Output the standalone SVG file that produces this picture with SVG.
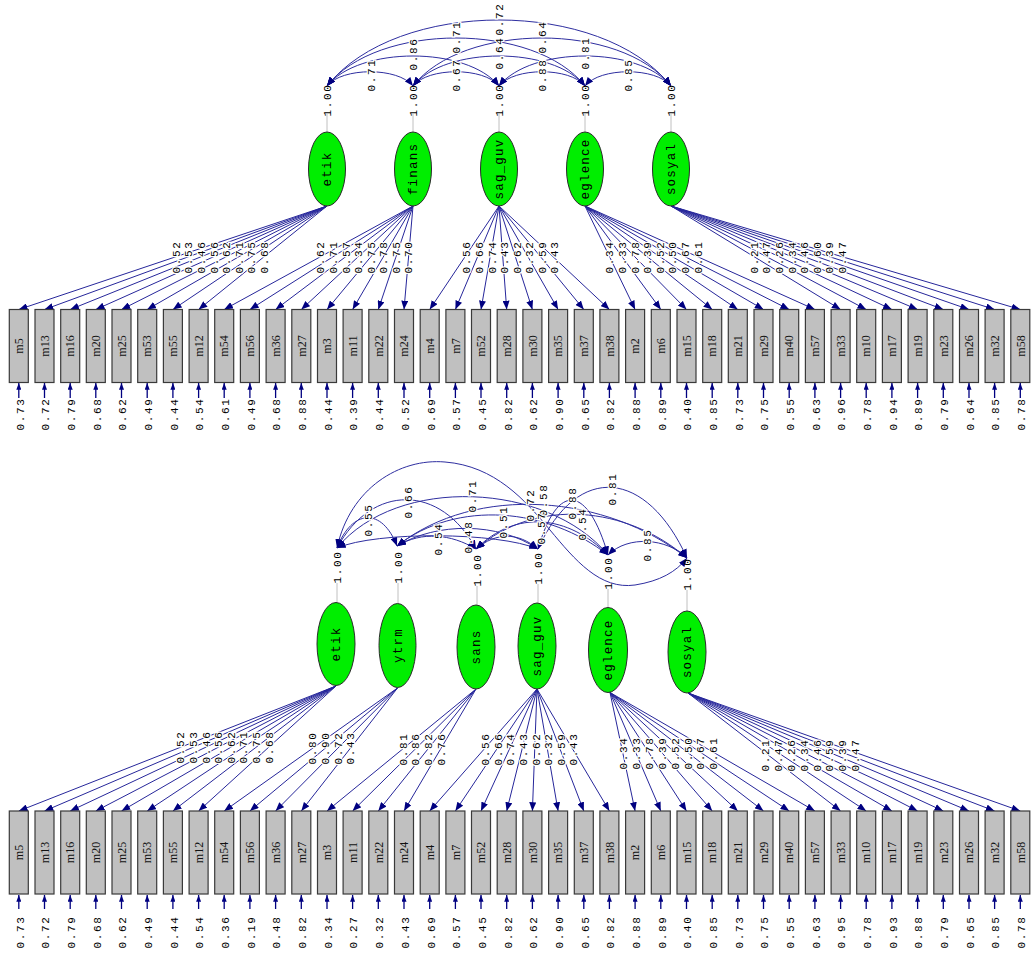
<svg xmlns="http://www.w3.org/2000/svg" width="1035" height="954" viewBox="0 0 1035 954">
<defs>
<marker id="ah" viewBox="0 0 10 8" refX="10" refY="4" markerWidth="9" markerHeight="7" markerUnits="userSpaceOnUse" orient="auto-start-reverse"><path d="M0,0 L10,4 L0,8 z" fill="#000080"/></marker>
<marker id="ae" viewBox="0 0 8 6" refX="8" refY="3" markerWidth="7" markerHeight="5" markerUnits="userSpaceOnUse" orient="auto"><path d="M0,0 L8,3 L0,6 z" fill="#000080"/></marker>
<style>
.ln{stroke:#26269a;stroke-width:1;fill:none;marker-end:url(#ah)}
.cv{stroke:#2e2ea0;stroke-width:1;fill:none;marker-start:url(#ah);marker-end:url(#ah)}
.er{stroke:#000080;stroke-width:1.3;marker-end:url(#ae)}
.gl{stroke:#c0c0c0;stroke-width:1}
.bx{fill:#c0c0c0;stroke:#3a3a3a;stroke-width:1.2}
.el{fill:#00ee00;stroke:#2a2a2a;stroke-width:1}
.n{font-family:"Liberation Mono",monospace;font-size:11px;letter-spacing:1.7px;fill:#000;text-anchor:middle}
.lb{font-family:"Liberation Mono",monospace;font-size:11px;letter-spacing:1.7px;fill:#000;text-anchor:middle;paint-order:stroke;stroke:#fff;stroke-width:2.5px}
.f{font-family:"Liberation Mono",monospace;font-size:12.5px;letter-spacing:1.2px;fill:#000;text-anchor:middle}
.m{font-family:"Liberation Serif",serif;font-size:12px;fill:#111;text-anchor:middle}
</style>
</defs>
<rect width="1035" height="954" fill="#fff"/>

<!-- ================= TOP MODEL ================= -->
<g id="top-connectors">
<line class="gl" x1="327" y1="114" x2="327" y2="132"/>
<line class="gl" x1="413" y1="114" x2="413" y2="132"/>
<line class="gl" x1="499" y1="114" x2="499" y2="132"/>
<line class="gl" x1="585" y1="114" x2="585" y2="132"/>
<line class="gl" x1="671" y1="114" x2="671" y2="132"/>
<path class="cv" d="M327,86 C342,67 398,67 413,86"/>
<path class="cv" d="M413,86 C428,67 484,67 499,86"/>
<path class="cv" d="M499,86 C514,67 570,67 585,86"/>
<path class="cv" d="M585,86 C600,67 656,67 671,86"/>
<path class="cv" d="M327,86 C359,46 467,46 499,86"/>
<path class="cv" d="M413,86 C445,46 553,46 585,86"/>
<path class="cv" d="M499,86 C531,46 639,46 671,86"/>
<path class="cv" d="M327,86 C377,22 535,22 585,86"/>
<path class="cv" d="M413,86 C463,22 621,22 671,86"/>
<path class="cv" d="M327,86 C397,-2 601,-2 671,86"/>
<line class="ln" x1="327" y1="206" x2="18.8" y2="309.5"/>
<line class="ln" x1="327" y1="206" x2="44.5" y2="309.5"/>
<line class="ln" x1="327" y1="206" x2="70.2" y2="309.5"/>
<line class="ln" x1="327" y1="206" x2="95.8" y2="309.5"/>
<line class="ln" x1="327" y1="206" x2="121.5" y2="309.5"/>
<line class="ln" x1="327" y1="206" x2="147.2" y2="309.5"/>
<line class="ln" x1="327" y1="206" x2="172.9" y2="309.5"/>
<line class="ln" x1="327" y1="206" x2="198.6" y2="309.5"/>
<line class="ln" x1="413" y1="206" x2="224.2" y2="309.5"/>
<line class="ln" x1="413" y1="206" x2="249.9" y2="309.5"/>
<line class="ln" x1="413" y1="206" x2="275.6" y2="309.5"/>
<line class="ln" x1="413" y1="206" x2="301.3" y2="309.5"/>
<line class="ln" x1="413" y1="206" x2="327.0" y2="309.5"/>
<line class="ln" x1="413" y1="206" x2="352.6" y2="309.5"/>
<line class="ln" x1="413" y1="206" x2="378.3" y2="309.5"/>
<line class="ln" x1="413" y1="206" x2="404.0" y2="309.5"/>
<line class="ln" x1="499" y1="206" x2="429.7" y2="309.5"/>
<line class="ln" x1="499" y1="206" x2="455.4" y2="309.5"/>
<line class="ln" x1="499" y1="206" x2="481.0" y2="309.5"/>
<line class="ln" x1="499" y1="206" x2="506.7" y2="309.5"/>
<line class="ln" x1="499" y1="206" x2="532.4" y2="309.5"/>
<line class="ln" x1="499" y1="206" x2="558.1" y2="309.5"/>
<line class="ln" x1="499" y1="206" x2="583.8" y2="309.5"/>
<line class="ln" x1="499" y1="206" x2="609.4" y2="309.5"/>
<line class="ln" x1="585" y1="206" x2="635.1" y2="309.5"/>
<line class="ln" x1="585" y1="206" x2="660.8" y2="309.5"/>
<line class="ln" x1="585" y1="206" x2="686.5" y2="309.5"/>
<line class="ln" x1="585" y1="206" x2="712.2" y2="309.5"/>
<line class="ln" x1="585" y1="206" x2="737.8" y2="309.5"/>
<line class="ln" x1="585" y1="206" x2="763.5" y2="309.5"/>
<line class="ln" x1="585" y1="206" x2="789.2" y2="309.5"/>
<line class="ln" x1="585" y1="206" x2="814.9" y2="309.5"/>
<line class="ln" x1="671" y1="206" x2="840.6" y2="309.5"/>
<line class="ln" x1="671" y1="206" x2="866.2" y2="309.5"/>
<line class="ln" x1="671" y1="206" x2="891.9" y2="309.5"/>
<line class="ln" x1="671" y1="206" x2="917.6" y2="309.5"/>
<line class="ln" x1="671" y1="206" x2="943.3" y2="309.5"/>
<line class="ln" x1="671" y1="206" x2="969.0" y2="309.5"/>
<line class="ln" x1="671" y1="206" x2="994.6" y2="309.5"/>
<line class="ln" x1="671" y1="206" x2="1020.3" y2="309.5"/>
<line class="er" x1="18.8" y1="398" x2="18.8" y2="383"/>
<line class="er" x1="44.5" y1="398" x2="44.5" y2="383"/>
<line class="er" x1="70.2" y1="398" x2="70.2" y2="383"/>
<line class="er" x1="95.8" y1="398" x2="95.8" y2="383"/>
<line class="er" x1="121.5" y1="398" x2="121.5" y2="383"/>
<line class="er" x1="147.2" y1="398" x2="147.2" y2="383"/>
<line class="er" x1="172.9" y1="398" x2="172.9" y2="383"/>
<line class="er" x1="198.6" y1="398" x2="198.6" y2="383"/>
<line class="er" x1="224.2" y1="398" x2="224.2" y2="383"/>
<line class="er" x1="249.9" y1="398" x2="249.9" y2="383"/>
<line class="er" x1="275.6" y1="398" x2="275.6" y2="383"/>
<line class="er" x1="301.3" y1="398" x2="301.3" y2="383"/>
<line class="er" x1="327.0" y1="398" x2="327.0" y2="383"/>
<line class="er" x1="352.6" y1="398" x2="352.6" y2="383"/>
<line class="er" x1="378.3" y1="398" x2="378.3" y2="383"/>
<line class="er" x1="404.0" y1="398" x2="404.0" y2="383"/>
<line class="er" x1="429.7" y1="398" x2="429.7" y2="383"/>
<line class="er" x1="455.4" y1="398" x2="455.4" y2="383"/>
<line class="er" x1="481.0" y1="398" x2="481.0" y2="383"/>
<line class="er" x1="506.7" y1="398" x2="506.7" y2="383"/>
<line class="er" x1="532.4" y1="398" x2="532.4" y2="383"/>
<line class="er" x1="558.1" y1="398" x2="558.1" y2="383"/>
<line class="er" x1="583.8" y1="398" x2="583.8" y2="383"/>
<line class="er" x1="609.4" y1="398" x2="609.4" y2="383"/>
<line class="er" x1="635.1" y1="398" x2="635.1" y2="383"/>
<line class="er" x1="660.8" y1="398" x2="660.8" y2="383"/>
<line class="er" x1="686.5" y1="398" x2="686.5" y2="383"/>
<line class="er" x1="712.2" y1="398" x2="712.2" y2="383"/>
<line class="er" x1="737.8" y1="398" x2="737.8" y2="383"/>
<line class="er" x1="763.5" y1="398" x2="763.5" y2="383"/>
<line class="er" x1="789.2" y1="398" x2="789.2" y2="383"/>
<line class="er" x1="814.9" y1="398" x2="814.9" y2="383"/>
<line class="er" x1="840.6" y1="398" x2="840.6" y2="383"/>
<line class="er" x1="866.2" y1="398" x2="866.2" y2="383"/>
<line class="er" x1="891.9" y1="398" x2="891.9" y2="383"/>
<line class="er" x1="917.6" y1="398" x2="917.6" y2="383"/>
<line class="er" x1="943.3" y1="398" x2="943.3" y2="383"/>
<line class="er" x1="969.0" y1="398" x2="969.0" y2="383"/>
<line class="er" x1="994.6" y1="398" x2="994.6" y2="383"/>
<line class="er" x1="1020.3" y1="398" x2="1020.3" y2="383"/>
</g>

<g id="top-labels">
<text class="n" transform="translate(327,100) rotate(-90)" dy="0.35em">1.00</text>
<text class="n" transform="translate(413,100) rotate(-90)" dy="0.35em">1.00</text>
<text class="n" transform="translate(499,100) rotate(-90)" dy="0.35em">1.00</text>
<text class="n" transform="translate(585,100) rotate(-90)" dy="0.35em">1.00</text>
<text class="n" transform="translate(671,100) rotate(-90)" dy="0.35em">1.00</text>
<text class="lb" transform="translate(371,75) rotate(-90)" dy="0.35em">0.71</text>
<text class="lb" transform="translate(456,75) rotate(-90)" dy="0.35em">0.67</text>
<text class="lb" transform="translate(542,75) rotate(-90)" dy="0.35em">0.88</text>
<text class="lb" transform="translate(628,75) rotate(-90)" dy="0.35em">0.85</text>
<text class="lb" transform="translate(413,54) rotate(-90)" dy="0.35em">0.86</text>
<text class="lb" transform="translate(499,53) rotate(-90)" dy="0.35em">0.64</text>
<text class="lb" transform="translate(585,53) rotate(-90)" dy="0.35em">0.81</text>
<text class="lb" transform="translate(456,37) rotate(-90)" dy="0.35em">0.71</text>
<text class="lb" transform="translate(542,37) rotate(-90)" dy="0.35em">0.64</text>
<text class="lb" transform="translate(499,19) rotate(-90)" dy="0.35em">0.72</text>
<text class="lb" transform="translate(176.0,257) rotate(-90)" dy="0.35em">0.52</text>
<text class="lb" transform="translate(188.6,257) rotate(-90)" dy="0.35em">0.53</text>
<text class="lb" transform="translate(201.2,257) rotate(-90)" dy="0.35em">0.46</text>
<text class="lb" transform="translate(213.7,257) rotate(-90)" dy="0.35em">0.56</text>
<text class="lb" transform="translate(226.3,257) rotate(-90)" dy="0.35em">0.62</text>
<text class="lb" transform="translate(238.9,257) rotate(-90)" dy="0.35em">0.71</text>
<text class="lb" transform="translate(251.5,257) rotate(-90)" dy="0.35em">0.75</text>
<text class="lb" transform="translate(264.1,257) rotate(-90)" dy="0.35em">0.68</text>
<text class="lb" transform="translate(320.5,257) rotate(-90)" dy="0.35em">0.62</text>
<text class="lb" transform="translate(333.1,257) rotate(-90)" dy="0.35em">0.71</text>
<text class="lb" transform="translate(345.7,257) rotate(-90)" dy="0.35em">0.57</text>
<text class="lb" transform="translate(358.3,257) rotate(-90)" dy="0.35em">0.34</text>
<text class="lb" transform="translate(370.9,257) rotate(-90)" dy="0.35em">0.75</text>
<text class="lb" transform="translate(383.4,257) rotate(-90)" dy="0.35em">0.78</text>
<text class="lb" transform="translate(396.0,257) rotate(-90)" dy="0.35em">0.75</text>
<text class="lb" transform="translate(408.6,257) rotate(-90)" dy="0.35em">0.70</text>
<text class="lb" transform="translate(466.5,257) rotate(-90)" dy="0.35em">0.56</text>
<text class="lb" transform="translate(479.1,257) rotate(-90)" dy="0.35em">0.66</text>
<text class="lb" transform="translate(491.7,257) rotate(-90)" dy="0.35em">0.74</text>
<text class="lb" transform="translate(504.3,257) rotate(-90)" dy="0.35em">0.43</text>
<text class="lb" transform="translate(516.9,257) rotate(-90)" dy="0.35em">0.62</text>
<text class="lb" transform="translate(529.5,257) rotate(-90)" dy="0.35em">0.32</text>
<text class="lb" transform="translate(542.1,257) rotate(-90)" dy="0.35em">0.59</text>
<text class="lb" transform="translate(554.6,257) rotate(-90)" dy="0.35em">0.43</text>
<text class="lb" transform="translate(609.5,257) rotate(-90)" dy="0.35em">0.34</text>
<text class="lb" transform="translate(622.1,257) rotate(-90)" dy="0.35em">0.33</text>
<text class="lb" transform="translate(634.7,257) rotate(-90)" dy="0.35em">0.78</text>
<text class="lb" transform="translate(647.3,257) rotate(-90)" dy="0.35em">0.39</text>
<text class="lb" transform="translate(659.9,257) rotate(-90)" dy="0.35em">0.52</text>
<text class="lb" transform="translate(672.5,257) rotate(-90)" dy="0.35em">0.50</text>
<text class="lb" transform="translate(685.1,257) rotate(-90)" dy="0.35em">0.67</text>
<text class="lb" transform="translate(697.7,257) rotate(-90)" dy="0.35em">0.61</text>
<text class="lb" transform="translate(754.1,257) rotate(-90)" dy="0.35em">0.21</text>
<text class="lb" transform="translate(766.6,257) rotate(-90)" dy="0.35em">0.47</text>
<text class="lb" transform="translate(779.2,257) rotate(-90)" dy="0.35em">0.26</text>
<text class="lb" transform="translate(791.8,257) rotate(-90)" dy="0.35em">0.34</text>
<text class="lb" transform="translate(804.4,257) rotate(-90)" dy="0.35em">0.46</text>
<text class="lb" transform="translate(817.0,257) rotate(-90)" dy="0.35em">0.60</text>
<text class="lb" transform="translate(829.6,257) rotate(-90)" dy="0.35em">0.39</text>
<text class="lb" transform="translate(842.2,257) rotate(-90)" dy="0.35em">0.47</text>
<text class="n" transform="translate(19.8,414) rotate(-90)" dy="0.35em">0.73</text>
<text class="n" transform="translate(45.5,414) rotate(-90)" dy="0.35em">0.72</text>
<text class="n" transform="translate(71.2,414) rotate(-90)" dy="0.35em">0.79</text>
<text class="n" transform="translate(96.8,414) rotate(-90)" dy="0.35em">0.68</text>
<text class="n" transform="translate(122.5,414) rotate(-90)" dy="0.35em">0.62</text>
<text class="n" transform="translate(148.2,414) rotate(-90)" dy="0.35em">0.49</text>
<text class="n" transform="translate(173.9,414) rotate(-90)" dy="0.35em">0.44</text>
<text class="n" transform="translate(199.6,414) rotate(-90)" dy="0.35em">0.54</text>
<text class="n" transform="translate(225.2,414) rotate(-90)" dy="0.35em">0.61</text>
<text class="n" transform="translate(250.9,414) rotate(-90)" dy="0.35em">0.49</text>
<text class="n" transform="translate(276.6,414) rotate(-90)" dy="0.35em">0.68</text>
<text class="n" transform="translate(302.3,414) rotate(-90)" dy="0.35em">0.88</text>
<text class="n" transform="translate(328.0,414) rotate(-90)" dy="0.35em">0.44</text>
<text class="n" transform="translate(353.6,414) rotate(-90)" dy="0.35em">0.39</text>
<text class="n" transform="translate(379.3,414) rotate(-90)" dy="0.35em">0.44</text>
<text class="n" transform="translate(405.0,414) rotate(-90)" dy="0.35em">0.52</text>
<text class="n" transform="translate(430.7,414) rotate(-90)" dy="0.35em">0.69</text>
<text class="n" transform="translate(456.4,414) rotate(-90)" dy="0.35em">0.57</text>
<text class="n" transform="translate(482.0,414) rotate(-90)" dy="0.35em">0.45</text>
<text class="n" transform="translate(507.7,414) rotate(-90)" dy="0.35em">0.82</text>
<text class="n" transform="translate(533.4,414) rotate(-90)" dy="0.35em">0.62</text>
<text class="n" transform="translate(559.1,414) rotate(-90)" dy="0.35em">0.90</text>
<text class="n" transform="translate(584.8,414) rotate(-90)" dy="0.35em">0.65</text>
<text class="n" transform="translate(610.4,414) rotate(-90)" dy="0.35em">0.82</text>
<text class="n" transform="translate(636.1,414) rotate(-90)" dy="0.35em">0.88</text>
<text class="n" transform="translate(661.8,414) rotate(-90)" dy="0.35em">0.89</text>
<text class="n" transform="translate(687.5,414) rotate(-90)" dy="0.35em">0.40</text>
<text class="n" transform="translate(713.2,414) rotate(-90)" dy="0.35em">0.85</text>
<text class="n" transform="translate(738.8,414) rotate(-90)" dy="0.35em">0.73</text>
<text class="n" transform="translate(764.5,414) rotate(-90)" dy="0.35em">0.75</text>
<text class="n" transform="translate(790.2,414) rotate(-90)" dy="0.35em">0.55</text>
<text class="n" transform="translate(815.9,414) rotate(-90)" dy="0.35em">0.63</text>
<text class="n" transform="translate(841.6,414) rotate(-90)" dy="0.35em">0.96</text>
<text class="n" transform="translate(867.2,414) rotate(-90)" dy="0.35em">0.78</text>
<text class="n" transform="translate(892.9,414) rotate(-90)" dy="0.35em">0.94</text>
<text class="n" transform="translate(918.6,414) rotate(-90)" dy="0.35em">0.89</text>
<text class="n" transform="translate(944.3,414) rotate(-90)" dy="0.35em">0.79</text>
<text class="n" transform="translate(970.0,414) rotate(-90)" dy="0.35em">0.64</text>
<text class="n" transform="translate(995.6,414) rotate(-90)" dy="0.35em">0.85</text>
<text class="n" transform="translate(1021.3,414) rotate(-90)" dy="0.35em">0.78</text>
</g>

<g id="top-factors">
<g id="t-etik"><ellipse class="el" cx="327" cy="169" rx="18.5" ry="37"/><text class="f" transform="translate(327,169) rotate(-90)" dy="0.35em">etik</text></g>
<g id="t-finans"><ellipse class="el" cx="413" cy="169" rx="18.5" ry="37"/><text class="f" transform="translate(413,169) rotate(-90)" dy="0.35em">finans</text></g>
<g id="t-sag_guv"><ellipse class="el" cx="499" cy="169" rx="18.5" ry="37"/><text class="f" transform="translate(499,169) rotate(-90)" dy="0.35em">sag_guv</text></g>
<g id="t-eglence"><ellipse class="el" cx="585" cy="169" rx="18.5" ry="37"/><text class="f" transform="translate(585,169) rotate(-90)" dy="0.35em">eglence</text></g>
<g id="t-sosyal"><ellipse class="el" cx="671" cy="169" rx="18.5" ry="37"/><text class="f" transform="translate(671,169) rotate(-90)" dy="0.35em">sosyal</text></g>
</g>

<g id="top-indicators">
<g id="t-m5"><rect class="bx" x="9.3" y="309.5" width="19" height="73"/><text class="m" transform="translate(18.8,346) rotate(-90)" dy="0.35em">m5</text></g>
<g id="t-m13"><rect class="bx" x="35.0" y="309.5" width="19" height="73"/><text class="m" transform="translate(44.5,346) rotate(-90)" dy="0.35em">m13</text></g>
<g id="t-m16"><rect class="bx" x="60.7" y="309.5" width="19" height="73"/><text class="m" transform="translate(70.2,346) rotate(-90)" dy="0.35em">m16</text></g>
<g id="t-m20"><rect class="bx" x="86.3" y="309.5" width="19" height="73"/><text class="m" transform="translate(95.8,346) rotate(-90)" dy="0.35em">m20</text></g>
<g id="t-m25"><rect class="bx" x="112.0" y="309.5" width="19" height="73"/><text class="m" transform="translate(121.5,346) rotate(-90)" dy="0.35em">m25</text></g>
<g id="t-m53"><rect class="bx" x="137.7" y="309.5" width="19" height="73"/><text class="m" transform="translate(147.2,346) rotate(-90)" dy="0.35em">m53</text></g>
<g id="t-m55"><rect class="bx" x="163.4" y="309.5" width="19" height="73"/><text class="m" transform="translate(172.9,346) rotate(-90)" dy="0.35em">m55</text></g>
<g id="t-m12"><rect class="bx" x="189.1" y="309.5" width="19" height="73"/><text class="m" transform="translate(198.6,346) rotate(-90)" dy="0.35em">m12</text></g>
<g id="t-m54"><rect class="bx" x="214.7" y="309.5" width="19" height="73"/><text class="m" transform="translate(224.2,346) rotate(-90)" dy="0.35em">m54</text></g>
<g id="t-m56"><rect class="bx" x="240.4" y="309.5" width="19" height="73"/><text class="m" transform="translate(249.9,346) rotate(-90)" dy="0.35em">m56</text></g>
<g id="t-m36"><rect class="bx" x="266.1" y="309.5" width="19" height="73"/><text class="m" transform="translate(275.6,346) rotate(-90)" dy="0.35em">m36</text></g>
<g id="t-m27"><rect class="bx" x="291.8" y="309.5" width="19" height="73"/><text class="m" transform="translate(301.3,346) rotate(-90)" dy="0.35em">m27</text></g>
<g id="t-m3"><rect class="bx" x="317.5" y="309.5" width="19" height="73"/><text class="m" transform="translate(327.0,346) rotate(-90)" dy="0.35em">m3</text></g>
<g id="t-m11"><rect class="bx" x="343.1" y="309.5" width="19" height="73"/><text class="m" transform="translate(352.6,346) rotate(-90)" dy="0.35em">m11</text></g>
<g id="t-m22"><rect class="bx" x="368.8" y="309.5" width="19" height="73"/><text class="m" transform="translate(378.3,346) rotate(-90)" dy="0.35em">m22</text></g>
<g id="t-m24"><rect class="bx" x="394.5" y="309.5" width="19" height="73"/><text class="m" transform="translate(404.0,346) rotate(-90)" dy="0.35em">m24</text></g>
<g id="t-m4"><rect class="bx" x="420.2" y="309.5" width="19" height="73"/><text class="m" transform="translate(429.7,346) rotate(-90)" dy="0.35em">m4</text></g>
<g id="t-m7"><rect class="bx" x="445.9" y="309.5" width="19" height="73"/><text class="m" transform="translate(455.4,346) rotate(-90)" dy="0.35em">m7</text></g>
<g id="t-m52"><rect class="bx" x="471.5" y="309.5" width="19" height="73"/><text class="m" transform="translate(481.0,346) rotate(-90)" dy="0.35em">m52</text></g>
<g id="t-m28"><rect class="bx" x="497.2" y="309.5" width="19" height="73"/><text class="m" transform="translate(506.7,346) rotate(-90)" dy="0.35em">m28</text></g>
<g id="t-m30"><rect class="bx" x="522.9" y="309.5" width="19" height="73"/><text class="m" transform="translate(532.4,346) rotate(-90)" dy="0.35em">m30</text></g>
<g id="t-m35"><rect class="bx" x="548.6" y="309.5" width="19" height="73"/><text class="m" transform="translate(558.1,346) rotate(-90)" dy="0.35em">m35</text></g>
<g id="t-m37"><rect class="bx" x="574.3" y="309.5" width="19" height="73"/><text class="m" transform="translate(583.8,346) rotate(-90)" dy="0.35em">m37</text></g>
<g id="t-m38"><rect class="bx" x="599.9" y="309.5" width="19" height="73"/><text class="m" transform="translate(609.4,346) rotate(-90)" dy="0.35em">m38</text></g>
<g id="t-m2"><rect class="bx" x="625.6" y="309.5" width="19" height="73"/><text class="m" transform="translate(635.1,346) rotate(-90)" dy="0.35em">m2</text></g>
<g id="t-m6"><rect class="bx" x="651.3" y="309.5" width="19" height="73"/><text class="m" transform="translate(660.8,346) rotate(-90)" dy="0.35em">m6</text></g>
<g id="t-m15"><rect class="bx" x="677.0" y="309.5" width="19" height="73"/><text class="m" transform="translate(686.5,346) rotate(-90)" dy="0.35em">m15</text></g>
<g id="t-m18"><rect class="bx" x="702.7" y="309.5" width="19" height="73"/><text class="m" transform="translate(712.2,346) rotate(-90)" dy="0.35em">m18</text></g>
<g id="t-m21"><rect class="bx" x="728.3" y="309.5" width="19" height="73"/><text class="m" transform="translate(737.8,346) rotate(-90)" dy="0.35em">m21</text></g>
<g id="t-m29"><rect class="bx" x="754.0" y="309.5" width="19" height="73"/><text class="m" transform="translate(763.5,346) rotate(-90)" dy="0.35em">m29</text></g>
<g id="t-m40"><rect class="bx" x="779.7" y="309.5" width="19" height="73"/><text class="m" transform="translate(789.2,346) rotate(-90)" dy="0.35em">m40</text></g>
<g id="t-m57"><rect class="bx" x="805.4" y="309.5" width="19" height="73"/><text class="m" transform="translate(814.9,346) rotate(-90)" dy="0.35em">m57</text></g>
<g id="t-m33"><rect class="bx" x="831.1" y="309.5" width="19" height="73"/><text class="m" transform="translate(840.6,346) rotate(-90)" dy="0.35em">m33</text></g>
<g id="t-m10"><rect class="bx" x="856.7" y="309.5" width="19" height="73"/><text class="m" transform="translate(866.2,346) rotate(-90)" dy="0.35em">m10</text></g>
<g id="t-m17"><rect class="bx" x="882.4" y="309.5" width="19" height="73"/><text class="m" transform="translate(891.9,346) rotate(-90)" dy="0.35em">m17</text></g>
<g id="t-m19"><rect class="bx" x="908.1" y="309.5" width="19" height="73"/><text class="m" transform="translate(917.6,346) rotate(-90)" dy="0.35em">m19</text></g>
<g id="t-m23"><rect class="bx" x="933.8" y="309.5" width="19" height="73"/><text class="m" transform="translate(943.3,346) rotate(-90)" dy="0.35em">m23</text></g>
<g id="t-m26"><rect class="bx" x="959.5" y="309.5" width="19" height="73"/><text class="m" transform="translate(969.0,346) rotate(-90)" dy="0.35em">m26</text></g>
<g id="t-m32"><rect class="bx" x="985.1" y="309.5" width="19" height="73"/><text class="m" transform="translate(994.6,346) rotate(-90)" dy="0.35em">m32</text></g>
<g id="t-m58"><rect class="bx" x="1010.8" y="309.5" width="19" height="73"/><text class="m" transform="translate(1020.3,346) rotate(-90)" dy="0.35em">m58</text></g>
</g>

<!-- ================= BOTTOM MODEL ================= -->
<g id="bottom-connectors">
<line class="gl" x1="337" y1="583" x2="337" y2="602"/>
<line class="gl" x1="398" y1="583" x2="398" y2="603"/>
<line class="gl" x1="477" y1="586" x2="477" y2="605"/>
<line class="gl" x1="538" y1="584" x2="538" y2="603"/>
<line class="gl" x1="608" y1="589" x2="608" y2="607"/>
<line class="gl" x1="687" y1="590" x2="687" y2="611"/>
<path class="cv" d="M337,548 C352,509 382,507 397,546"/>
<path class="cv" d="M337,548 C372,483 441,484 476,549"/>
<path class="cv" d="M337,548 C377,531 498,532 538,549"/>
<path class="cv" d="M337,548 C397,475 548,482 608,555"/>
<path class="cv" d="M337,548 C350,488 400,458 445,462 C495,466 525,500 550,530 C575,560 600,590 635,585 C660,581 676,572 687,558"/>
<path class="cv" d="M397,546 C422,531 451,534 476,549"/>
<path class="cv" d="M397,546 C437,522 498,522 538,549"/>
<path class="cv" d="M397,546 C457,499 548,508 608,555"/>
<path class="cv" d="M397,546 C477,483 607,495 687,558"/>
<path class="cv" d="M476,549 C496,532 518,532 538,549"/>
<path class="cv" d="M476,549 C516,509 568,515 608,555"/>
<path class="cv" d="M476,549 C536,497 627,506 687,558"/>
<path class="cv" d="M538,549 C558,480 588,486 608,555"/>
<path class="cv" d="M538,549 C578,461 647,470 687,558"/>
<path class="cv" d="M608,555 C628,535 667,538 687,558"/>
<line class="ln" x1="336" y1="686" x2="18.8" y2="811"/>
<line class="ln" x1="336" y1="686" x2="44.5" y2="811"/>
<line class="ln" x1="336" y1="686" x2="70.2" y2="811"/>
<line class="ln" x1="336" y1="686" x2="95.8" y2="811"/>
<line class="ln" x1="336" y1="686" x2="121.5" y2="811"/>
<line class="ln" x1="336" y1="686" x2="147.2" y2="811"/>
<line class="ln" x1="336" y1="686" x2="172.9" y2="811"/>
<line class="ln" x1="336" y1="686" x2="198.6" y2="811"/>
<line class="ln" x1="397.5" y1="688" x2="224.2" y2="811"/>
<line class="ln" x1="397.5" y1="688" x2="249.9" y2="811"/>
<line class="ln" x1="397.5" y1="688" x2="275.6" y2="811"/>
<line class="ln" x1="397.5" y1="688" x2="301.3" y2="811"/>
<line class="ln" x1="476" y1="689" x2="327.0" y2="811"/>
<line class="ln" x1="476" y1="689" x2="352.6" y2="811"/>
<line class="ln" x1="476" y1="689" x2="378.3" y2="811"/>
<line class="ln" x1="476" y1="689" x2="404.0" y2="811"/>
<line class="ln" x1="537" y1="689" x2="429.7" y2="811"/>
<line class="ln" x1="537" y1="689" x2="455.4" y2="811"/>
<line class="ln" x1="537" y1="689" x2="481.0" y2="811"/>
<line class="ln" x1="537" y1="689" x2="506.7" y2="811"/>
<line class="ln" x1="537" y1="689" x2="532.4" y2="811"/>
<line class="ln" x1="537" y1="689" x2="558.1" y2="811"/>
<line class="ln" x1="537" y1="689" x2="583.8" y2="811"/>
<line class="ln" x1="537" y1="689" x2="609.4" y2="811"/>
<line class="ln" x1="610" y1="692.5" x2="635.1" y2="811"/>
<line class="ln" x1="610" y1="692.5" x2="660.8" y2="811"/>
<line class="ln" x1="610" y1="692.5" x2="686.5" y2="811"/>
<line class="ln" x1="610" y1="692.5" x2="712.2" y2="811"/>
<line class="ln" x1="610" y1="692.5" x2="737.8" y2="811"/>
<line class="ln" x1="610" y1="692.5" x2="763.5" y2="811"/>
<line class="ln" x1="610" y1="692.5" x2="789.2" y2="811"/>
<line class="ln" x1="610" y1="692.5" x2="814.9" y2="811"/>
<line class="ln" x1="688" y1="693" x2="840.6" y2="811"/>
<line class="ln" x1="688" y1="693" x2="866.2" y2="811"/>
<line class="ln" x1="688" y1="693" x2="891.9" y2="811"/>
<line class="ln" x1="688" y1="693" x2="917.6" y2="811"/>
<line class="ln" x1="688" y1="693" x2="943.3" y2="811"/>
<line class="ln" x1="688" y1="693" x2="969.0" y2="811"/>
<line class="ln" x1="688" y1="693" x2="994.6" y2="811"/>
<line class="ln" x1="688" y1="693" x2="1020.3" y2="811"/>
<line class="er" x1="18.8" y1="909" x2="18.8" y2="895"/>
<line class="er" x1="44.5" y1="909" x2="44.5" y2="895"/>
<line class="er" x1="70.2" y1="909" x2="70.2" y2="895"/>
<line class="er" x1="95.8" y1="909" x2="95.8" y2="895"/>
<line class="er" x1="121.5" y1="909" x2="121.5" y2="895"/>
<line class="er" x1="147.2" y1="909" x2="147.2" y2="895"/>
<line class="er" x1="172.9" y1="909" x2="172.9" y2="895"/>
<line class="er" x1="198.6" y1="909" x2="198.6" y2="895"/>
<line class="er" x1="224.2" y1="909" x2="224.2" y2="895"/>
<line class="er" x1="249.9" y1="909" x2="249.9" y2="895"/>
<line class="er" x1="275.6" y1="909" x2="275.6" y2="895"/>
<line class="er" x1="301.3" y1="909" x2="301.3" y2="895"/>
<line class="er" x1="327.0" y1="909" x2="327.0" y2="895"/>
<line class="er" x1="352.6" y1="909" x2="352.6" y2="895"/>
<line class="er" x1="378.3" y1="909" x2="378.3" y2="895"/>
<line class="er" x1="404.0" y1="909" x2="404.0" y2="895"/>
<line class="er" x1="429.7" y1="909" x2="429.7" y2="895"/>
<line class="er" x1="455.4" y1="909" x2="455.4" y2="895"/>
<line class="er" x1="481.0" y1="909" x2="481.0" y2="895"/>
<line class="er" x1="506.7" y1="909" x2="506.7" y2="895"/>
<line class="er" x1="532.4" y1="909" x2="532.4" y2="895"/>
<line class="er" x1="558.1" y1="909" x2="558.1" y2="895"/>
<line class="er" x1="583.8" y1="909" x2="583.8" y2="895"/>
<line class="er" x1="609.4" y1="909" x2="609.4" y2="895"/>
<line class="er" x1="635.1" y1="909" x2="635.1" y2="895"/>
<line class="er" x1="660.8" y1="909" x2="660.8" y2="895"/>
<line class="er" x1="686.5" y1="909" x2="686.5" y2="895"/>
<line class="er" x1="712.2" y1="909" x2="712.2" y2="895"/>
<line class="er" x1="737.8" y1="909" x2="737.8" y2="895"/>
<line class="er" x1="763.5" y1="909" x2="763.5" y2="895"/>
<line class="er" x1="789.2" y1="909" x2="789.2" y2="895"/>
<line class="er" x1="814.9" y1="909" x2="814.9" y2="895"/>
<line class="er" x1="840.6" y1="909" x2="840.6" y2="895"/>
<line class="er" x1="866.2" y1="909" x2="866.2" y2="895"/>
<line class="er" x1="891.9" y1="909" x2="891.9" y2="895"/>
<line class="er" x1="917.6" y1="909" x2="917.6" y2="895"/>
<line class="er" x1="943.3" y1="909" x2="943.3" y2="895"/>
<line class="er" x1="969.0" y1="909" x2="969.0" y2="895"/>
<line class="er" x1="994.6" y1="909" x2="994.6" y2="895"/>
<line class="er" x1="1020.3" y1="909" x2="1020.3" y2="895"/>
</g>

<g id="bottom-labels">
<text class="n" transform="translate(337,567) rotate(-90)" dy="0.35em">1.00</text>
<text class="n" transform="translate(398,567) rotate(-90)" dy="0.35em">1.00</text>
<text class="n" transform="translate(477,570) rotate(-90)" dy="0.35em">1.00</text>
<text class="n" transform="translate(538,568) rotate(-90)" dy="0.35em">1.00</text>
<text class="n" transform="translate(608,573) rotate(-90)" dy="0.35em">1.00</text>
<text class="n" transform="translate(687,574) rotate(-90)" dy="0.35em">1.00</text>
<text class="lb" transform="translate(368,520) rotate(-90)" dy="0.35em">0.55</text>
<text class="lb" transform="translate(408,502) rotate(-90)" dy="0.35em">0.66</text>
<text class="lb" transform="translate(472,496) rotate(-90)" dy="0.35em">0.71</text>
<text class="lb" transform="translate(438,539) rotate(-90)" dy="0.35em">0.54</text>
<text class="lb" transform="translate(468,537) rotate(-90)" dy="0.35em">0.48</text>
<text class="lb" transform="translate(503,522) rotate(-90)" dy="0.35em">0.51</text>
<text class="lb" transform="translate(530,505) rotate(-90)" dy="0.35em">0.72</text>
<text class="lb" transform="translate(543,500) rotate(-90)" dy="0.35em">0.58</text>
<text class="lb" transform="translate(541,528) rotate(-90)" dy="0.35em">0.57</text>
<text class="lb" transform="translate(572,503) rotate(-90)" dy="0.35em">0.88</text>
<text class="lb" transform="translate(582,524) rotate(-90)" dy="0.35em">0.54</text>
<text class="lb" transform="translate(612,489) rotate(-90)" dy="0.35em">0.81</text>
<text class="lb" transform="translate(647,545) rotate(-90)" dy="0.35em">0.85</text>
<text class="lb" transform="translate(180.6,747) rotate(-90)" dy="0.35em">0.52</text>
<text class="lb" transform="translate(193.2,747) rotate(-90)" dy="0.35em">0.53</text>
<text class="lb" transform="translate(205.8,747) rotate(-90)" dy="0.35em">0.46</text>
<text class="lb" transform="translate(218.3,747) rotate(-90)" dy="0.35em">0.56</text>
<text class="lb" transform="translate(230.9,747) rotate(-90)" dy="0.35em">0.62</text>
<text class="lb" transform="translate(243.5,747) rotate(-90)" dy="0.35em">0.71</text>
<text class="lb" transform="translate(256.1,747) rotate(-90)" dy="0.35em">0.75</text>
<text class="lb" transform="translate(268.7,747) rotate(-90)" dy="0.35em">0.68</text>
<text class="lb" transform="translate(312.6,748) rotate(-90)" dy="0.35em">0.80</text>
<text class="lb" transform="translate(325.2,748) rotate(-90)" dy="0.35em">0.90</text>
<text class="lb" transform="translate(337.8,748) rotate(-90)" dy="0.35em">0.72</text>
<text class="lb" transform="translate(350.4,748) rotate(-90)" dy="0.35em">0.43</text>
<text class="lb" transform="translate(403.0,749) rotate(-90)" dy="0.35em">0.81</text>
<text class="lb" transform="translate(415.5,749) rotate(-90)" dy="0.35em">0.86</text>
<text class="lb" transform="translate(428.1,749) rotate(-90)" dy="0.35em">0.82</text>
<text class="lb" transform="translate(440.7,749) rotate(-90)" dy="0.35em">0.76</text>
<text class="lb" transform="translate(485.4,749) rotate(-90)" dy="0.35em">0.56</text>
<text class="lb" transform="translate(498.0,749) rotate(-90)" dy="0.35em">0.66</text>
<text class="lb" transform="translate(510.6,749) rotate(-90)" dy="0.35em">0.74</text>
<text class="lb" transform="translate(523.2,749) rotate(-90)" dy="0.35em">0.43</text>
<text class="lb" transform="translate(535.7,749) rotate(-90)" dy="0.35em">0.62</text>
<text class="lb" transform="translate(548.3,749) rotate(-90)" dy="0.35em">0.32</text>
<text class="lb" transform="translate(560.9,749) rotate(-90)" dy="0.35em">0.59</text>
<text class="lb" transform="translate(573.5,749) rotate(-90)" dy="0.35em">0.43</text>
<text class="lb" transform="translate(623.6,753) rotate(-90)" dy="0.35em">0.34</text>
<text class="lb" transform="translate(636.4,753) rotate(-90)" dy="0.35em">0.33</text>
<text class="lb" transform="translate(649.2,753) rotate(-90)" dy="0.35em">0.78</text>
<text class="lb" transform="translate(662.1,753) rotate(-90)" dy="0.35em">0.39</text>
<text class="lb" transform="translate(674.9,753) rotate(-90)" dy="0.35em">0.52</text>
<text class="lb" transform="translate(687.8,753) rotate(-90)" dy="0.35em">0.50</text>
<text class="lb" transform="translate(700.6,753) rotate(-90)" dy="0.35em">0.67</text>
<text class="lb" transform="translate(713.4,753) rotate(-90)" dy="0.35em">0.61</text>
<text class="lb" transform="translate(765.3,755) rotate(-90)" dy="0.35em">0.21</text>
<text class="lb" transform="translate(778.1,755) rotate(-90)" dy="0.35em">0.47</text>
<text class="lb" transform="translate(791.0,755) rotate(-90)" dy="0.35em">0.26</text>
<text class="lb" transform="translate(803.8,755) rotate(-90)" dy="0.35em">0.34</text>
<text class="lb" transform="translate(816.7,755) rotate(-90)" dy="0.35em">0.46</text>
<text class="lb" transform="translate(829.5,755) rotate(-90)" dy="0.35em">0.59</text>
<text class="lb" transform="translate(842.3,755) rotate(-90)" dy="0.35em">0.39</text>
<text class="lb" transform="translate(855.2,755) rotate(-90)" dy="0.35em">0.47</text>
<text class="n" transform="translate(19.8,932) rotate(-90)" dy="0.35em">0.73</text>
<text class="n" transform="translate(45.5,932) rotate(-90)" dy="0.35em">0.72</text>
<text class="n" transform="translate(71.2,932) rotate(-90)" dy="0.35em">0.79</text>
<text class="n" transform="translate(96.8,932) rotate(-90)" dy="0.35em">0.68</text>
<text class="n" transform="translate(122.5,932) rotate(-90)" dy="0.35em">0.62</text>
<text class="n" transform="translate(148.2,932) rotate(-90)" dy="0.35em">0.49</text>
<text class="n" transform="translate(173.9,932) rotate(-90)" dy="0.35em">0.44</text>
<text class="n" transform="translate(199.6,932) rotate(-90)" dy="0.35em">0.54</text>
<text class="n" transform="translate(225.2,932) rotate(-90)" dy="0.35em">0.36</text>
<text class="n" transform="translate(250.9,932) rotate(-90)" dy="0.35em">0.19</text>
<text class="n" transform="translate(276.6,932) rotate(-90)" dy="0.35em">0.48</text>
<text class="n" transform="translate(302.3,932) rotate(-90)" dy="0.35em">0.82</text>
<text class="n" transform="translate(328.0,932) rotate(-90)" dy="0.35em">0.34</text>
<text class="n" transform="translate(353.6,932) rotate(-90)" dy="0.35em">0.27</text>
<text class="n" transform="translate(379.3,932) rotate(-90)" dy="0.35em">0.32</text>
<text class="n" transform="translate(405.0,932) rotate(-90)" dy="0.35em">0.43</text>
<text class="n" transform="translate(430.7,932) rotate(-90)" dy="0.35em">0.69</text>
<text class="n" transform="translate(456.4,932) rotate(-90)" dy="0.35em">0.57</text>
<text class="n" transform="translate(482.0,932) rotate(-90)" dy="0.35em">0.45</text>
<text class="n" transform="translate(507.7,932) rotate(-90)" dy="0.35em">0.82</text>
<text class="n" transform="translate(533.4,932) rotate(-90)" dy="0.35em">0.62</text>
<text class="n" transform="translate(559.1,932) rotate(-90)" dy="0.35em">0.90</text>
<text class="n" transform="translate(584.8,932) rotate(-90)" dy="0.35em">0.65</text>
<text class="n" transform="translate(610.4,932) rotate(-90)" dy="0.35em">0.82</text>
<text class="n" transform="translate(636.1,932) rotate(-90)" dy="0.35em">0.88</text>
<text class="n" transform="translate(661.8,932) rotate(-90)" dy="0.35em">0.89</text>
<text class="n" transform="translate(687.5,932) rotate(-90)" dy="0.35em">0.40</text>
<text class="n" transform="translate(713.2,932) rotate(-90)" dy="0.35em">0.85</text>
<text class="n" transform="translate(738.8,932) rotate(-90)" dy="0.35em">0.73</text>
<text class="n" transform="translate(764.5,932) rotate(-90)" dy="0.35em">0.75</text>
<text class="n" transform="translate(790.2,932) rotate(-90)" dy="0.35em">0.55</text>
<text class="n" transform="translate(815.9,932) rotate(-90)" dy="0.35em">0.63</text>
<text class="n" transform="translate(841.6,932) rotate(-90)" dy="0.35em">0.95</text>
<text class="n" transform="translate(867.2,932) rotate(-90)" dy="0.35em">0.78</text>
<text class="n" transform="translate(892.9,932) rotate(-90)" dy="0.35em">0.93</text>
<text class="n" transform="translate(918.6,932) rotate(-90)" dy="0.35em">0.88</text>
<text class="n" transform="translate(944.3,932) rotate(-90)" dy="0.35em">0.79</text>
<text class="n" transform="translate(970.0,932) rotate(-90)" dy="0.35em">0.65</text>
<text class="n" transform="translate(995.6,932) rotate(-90)" dy="0.35em">0.85</text>
<text class="n" transform="translate(1021.3,932) rotate(-90)" dy="0.35em">0.78</text>
</g>

<g id="bottom-factors">
<g id="b-etik"><ellipse class="el" cx="336" cy="644" rx="19" ry="41.5"/><text class="f" transform="translate(336,644) rotate(-90)" dy="0.35em">etik</text></g>
<g id="b-ytrm"><ellipse class="el" cx="397.5" cy="645.5" rx="18.5" ry="42"/><text class="f" transform="translate(397.5,645.5) rotate(-90)" dy="0.35em">ytrm</text></g>
<g id="b-sans"><ellipse class="el" cx="476" cy="647" rx="19" ry="42"/><text class="f" transform="translate(476,647) rotate(-90)" dy="0.35em">sans</text></g>
<g id="b-sag_guv"><ellipse class="el" cx="537" cy="646" rx="19" ry="43"/><text class="f" transform="translate(537,646) rotate(-90)" dy="0.35em">sag_guv</text></g>
<g id="b-eglence"><ellipse class="el" cx="608" cy="650" rx="19.5" ry="42.5"/><text class="f" transform="translate(608,650) rotate(-90)" dy="0.35em">eglence</text></g>
<g id="b-sosyal"><ellipse class="el" cx="687" cy="652" rx="19" ry="41"/><text class="f" transform="translate(687,652) rotate(-90)" dy="0.35em">sosyal</text></g>
</g>

<g id="bottom-indicators">
<g id="b-m5"><rect class="bx" x="9.3" y="811" width="19" height="83"/><text class="m" transform="translate(18.8,852.5) rotate(-90)" dy="0.35em">m5</text></g>
<g id="b-m13"><rect class="bx" x="35.0" y="811" width="19" height="83"/><text class="m" transform="translate(44.5,852.5) rotate(-90)" dy="0.35em">m13</text></g>
<g id="b-m16"><rect class="bx" x="60.7" y="811" width="19" height="83"/><text class="m" transform="translate(70.2,852.5) rotate(-90)" dy="0.35em">m16</text></g>
<g id="b-m20"><rect class="bx" x="86.3" y="811" width="19" height="83"/><text class="m" transform="translate(95.8,852.5) rotate(-90)" dy="0.35em">m20</text></g>
<g id="b-m25"><rect class="bx" x="112.0" y="811" width="19" height="83"/><text class="m" transform="translate(121.5,852.5) rotate(-90)" dy="0.35em">m25</text></g>
<g id="b-m53"><rect class="bx" x="137.7" y="811" width="19" height="83"/><text class="m" transform="translate(147.2,852.5) rotate(-90)" dy="0.35em">m53</text></g>
<g id="b-m55"><rect class="bx" x="163.4" y="811" width="19" height="83"/><text class="m" transform="translate(172.9,852.5) rotate(-90)" dy="0.35em">m55</text></g>
<g id="b-m12"><rect class="bx" x="189.1" y="811" width="19" height="83"/><text class="m" transform="translate(198.6,852.5) rotate(-90)" dy="0.35em">m12</text></g>
<g id="b-m54"><rect class="bx" x="214.7" y="811" width="19" height="83"/><text class="m" transform="translate(224.2,852.5) rotate(-90)" dy="0.35em">m54</text></g>
<g id="b-m56"><rect class="bx" x="240.4" y="811" width="19" height="83"/><text class="m" transform="translate(249.9,852.5) rotate(-90)" dy="0.35em">m56</text></g>
<g id="b-m36"><rect class="bx" x="266.1" y="811" width="19" height="83"/><text class="m" transform="translate(275.6,852.5) rotate(-90)" dy="0.35em">m36</text></g>
<g id="b-m27"><rect class="bx" x="291.8" y="811" width="19" height="83"/><text class="m" transform="translate(301.3,852.5) rotate(-90)" dy="0.35em">m27</text></g>
<g id="b-m3"><rect class="bx" x="317.5" y="811" width="19" height="83"/><text class="m" transform="translate(327.0,852.5) rotate(-90)" dy="0.35em">m3</text></g>
<g id="b-m11"><rect class="bx" x="343.1" y="811" width="19" height="83"/><text class="m" transform="translate(352.6,852.5) rotate(-90)" dy="0.35em">m11</text></g>
<g id="b-m22"><rect class="bx" x="368.8" y="811" width="19" height="83"/><text class="m" transform="translate(378.3,852.5) rotate(-90)" dy="0.35em">m22</text></g>
<g id="b-m24"><rect class="bx" x="394.5" y="811" width="19" height="83"/><text class="m" transform="translate(404.0,852.5) rotate(-90)" dy="0.35em">m24</text></g>
<g id="b-m4"><rect class="bx" x="420.2" y="811" width="19" height="83"/><text class="m" transform="translate(429.7,852.5) rotate(-90)" dy="0.35em">m4</text></g>
<g id="b-m7"><rect class="bx" x="445.9" y="811" width="19" height="83"/><text class="m" transform="translate(455.4,852.5) rotate(-90)" dy="0.35em">m7</text></g>
<g id="b-m52"><rect class="bx" x="471.5" y="811" width="19" height="83"/><text class="m" transform="translate(481.0,852.5) rotate(-90)" dy="0.35em">m52</text></g>
<g id="b-m28"><rect class="bx" x="497.2" y="811" width="19" height="83"/><text class="m" transform="translate(506.7,852.5) rotate(-90)" dy="0.35em">m28</text></g>
<g id="b-m30"><rect class="bx" x="522.9" y="811" width="19" height="83"/><text class="m" transform="translate(532.4,852.5) rotate(-90)" dy="0.35em">m30</text></g>
<g id="b-m35"><rect class="bx" x="548.6" y="811" width="19" height="83"/><text class="m" transform="translate(558.1,852.5) rotate(-90)" dy="0.35em">m35</text></g>
<g id="b-m37"><rect class="bx" x="574.3" y="811" width="19" height="83"/><text class="m" transform="translate(583.8,852.5) rotate(-90)" dy="0.35em">m37</text></g>
<g id="b-m38"><rect class="bx" x="599.9" y="811" width="19" height="83"/><text class="m" transform="translate(609.4,852.5) rotate(-90)" dy="0.35em">m38</text></g>
<g id="b-m2"><rect class="bx" x="625.6" y="811" width="19" height="83"/><text class="m" transform="translate(635.1,852.5) rotate(-90)" dy="0.35em">m2</text></g>
<g id="b-m6"><rect class="bx" x="651.3" y="811" width="19" height="83"/><text class="m" transform="translate(660.8,852.5) rotate(-90)" dy="0.35em">m6</text></g>
<g id="b-m15"><rect class="bx" x="677.0" y="811" width="19" height="83"/><text class="m" transform="translate(686.5,852.5) rotate(-90)" dy="0.35em">m15</text></g>
<g id="b-m18"><rect class="bx" x="702.7" y="811" width="19" height="83"/><text class="m" transform="translate(712.2,852.5) rotate(-90)" dy="0.35em">m18</text></g>
<g id="b-m21"><rect class="bx" x="728.3" y="811" width="19" height="83"/><text class="m" transform="translate(737.8,852.5) rotate(-90)" dy="0.35em">m21</text></g>
<g id="b-m29"><rect class="bx" x="754.0" y="811" width="19" height="83"/><text class="m" transform="translate(763.5,852.5) rotate(-90)" dy="0.35em">m29</text></g>
<g id="b-m40"><rect class="bx" x="779.7" y="811" width="19" height="83"/><text class="m" transform="translate(789.2,852.5) rotate(-90)" dy="0.35em">m40</text></g>
<g id="b-m57"><rect class="bx" x="805.4" y="811" width="19" height="83"/><text class="m" transform="translate(814.9,852.5) rotate(-90)" dy="0.35em">m57</text></g>
<g id="b-m33"><rect class="bx" x="831.1" y="811" width="19" height="83"/><text class="m" transform="translate(840.6,852.5) rotate(-90)" dy="0.35em">m33</text></g>
<g id="b-m10"><rect class="bx" x="856.7" y="811" width="19" height="83"/><text class="m" transform="translate(866.2,852.5) rotate(-90)" dy="0.35em">m10</text></g>
<g id="b-m17"><rect class="bx" x="882.4" y="811" width="19" height="83"/><text class="m" transform="translate(891.9,852.5) rotate(-90)" dy="0.35em">m17</text></g>
<g id="b-m19"><rect class="bx" x="908.1" y="811" width="19" height="83"/><text class="m" transform="translate(917.6,852.5) rotate(-90)" dy="0.35em">m19</text></g>
<g id="b-m23"><rect class="bx" x="933.8" y="811" width="19" height="83"/><text class="m" transform="translate(943.3,852.5) rotate(-90)" dy="0.35em">m23</text></g>
<g id="b-m26"><rect class="bx" x="959.5" y="811" width="19" height="83"/><text class="m" transform="translate(969.0,852.5) rotate(-90)" dy="0.35em">m26</text></g>
<g id="b-m32"><rect class="bx" x="985.1" y="811" width="19" height="83"/><text class="m" transform="translate(994.6,852.5) rotate(-90)" dy="0.35em">m32</text></g>
<g id="b-m58"><rect class="bx" x="1010.8" y="811" width="19" height="83"/><text class="m" transform="translate(1020.3,852.5) rotate(-90)" dy="0.35em">m58</text></g>
</g>
</svg>
